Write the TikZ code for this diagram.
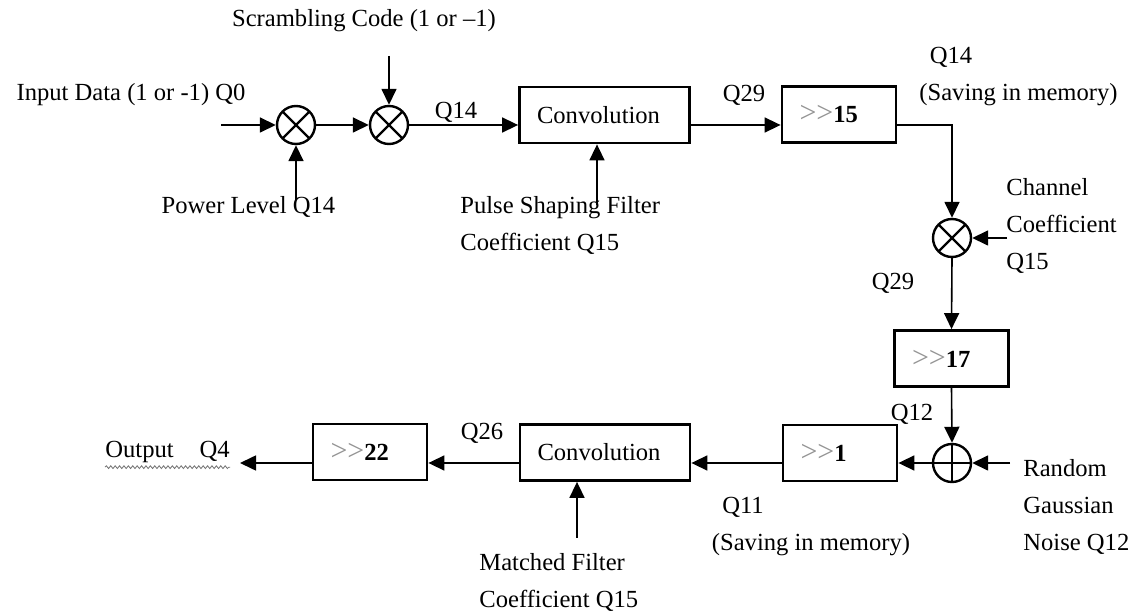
\documentclass[tikz,border=0pt]{standalone}
\usepackage{fontspec}
\setmainfont{Liberation Serif}
\usetikzlibrary{arrows.meta,decorations.pathmorphing}

% ">>" drawn as two separate glyphs so no guillemet ligature forms
\newcommand{\shr}[1]{{\fontsize{15}{14}\selectfont\color{black!42}>\kern0pt>}\textbf{#1}}

\begin{document}
\begin{tikzpicture}[x=0.5pt,y=-0.5pt,
  txt/.style={font=\fontsize{12.3}{18.5}\selectfont, inner sep=0pt},
  ltxt/.style={txt, align=left, anchor=west},
  blk/.style={draw, line width=1.4pt, minimum height=28pt, inner ysep=0pt,
    inner xsep=8.75pt, align=left, font=\fontsize{12.3}{14}\selectfont},
  convbox/.style={blk, text width=67.5pt},
  shiftbox/.style={blk, text width=39.5pt},
  junction/.style={circle, draw, line width=1.2pt, minimum size=19pt, inner sep=0pt},
  mult/.style={junction, path picture={
      \draw[line width=1.2pt]
        (path picture bounding box.north east) -- (path picture bounding box.south west)
        (path picture bounding box.north west) -- (path picture bounding box.south east);}},
  adder/.style={junction, path picture={
      \draw[line width=1.2pt]
        (path picture bounding box.north) -- (path picture bounding box.south)
        (path picture bounding box.west) -- (path picture bounding box.east);}},
  flow/.style={line width=0.8pt, -{Triangle[length=8pt,width=7.5pt]}}
]
\useasboundingbox[fill=white] (0,0) rectangle (1136,614);

% ---- signal chain ----
\node[mult] (M1) at (296,125) {};
\node[mult] (M2) at (389,125) {};
\node[convbox] (C1) at (604.5,115) {Convolution};
\node[shiftbox] (S15) at (839,114.5) {\shr{15}};
\node[mult] (M3) at (952,238) {};
\node[shiftbox] (S17) at (951.5,358.5) {\shr{17}};
\node[adder] (A) at (952,463) {};
\node[shiftbox] (S1) at (840,453) {\shr{1}};
\node[convbox] (C2) at (605,452.5) {Convolution};
\node[shiftbox] (S22) at (370,452) {\shr{22}};

% ---- free ends of the side inputs and the output ----
\coordinate (inS) at (221,125);
\coordinate (scrS) at (389,56);
\coordinate (powS) at (296,200);
\coordinate (pulS) at (597,205);
\coordinate (coefS) at (1007,238);
\coordinate (noiS) at (1010,463);
\coordinate (matS) at (577,538);
\coordinate (outE) at (240,463);

% ---- labels ----
\node[txt] (inp) at (131,95) {Input Data (1 or -1) Q0};
\node[txt] (scr) at (364,21) {Scrambling Code (1 or --1)};
\node[txt] (pow) at (248.5,207) {Power Level Q14};
\node[ltxt] (pul) at (460,225.5) {Pulse Shaping Filter\\Coefficient Q15};
\node[txt] (q14a) at (456,112) {Q14};
\node[txt] (q29a) at (744,95) {Q29};
\node[txt] (q14b) at (951,57) {Q14};
\node[txt] (sav1) at (1018.5,95) {(Saving in memory)};
\node[ltxt] (chan) at (1006,226) {Channel\\Coefficient\\Q15};
\node[txt] (q29b) at (893,283) {Q29};
\node[txt] (q12) at (912,414) {Q12};
\node[ltxt] (noise) at (1023,507) {Random\\Gaussian\\Noise Q12};
\node[txt] (q11) at (743,507) {Q11};
\node[txt] (sav2) at (811,545) {(Saving in memory)};
\node[ltxt] (mat) at (479,582.5) {Matched Filter\\Coefficient Q15};
\node[txt] (q26) at (482,433) {Q26};
\node[ltxt] (out) at (105,452) {Output\hspace{13pt}Q4};
\draw[black!55, line width=0.4pt, decorate,
  decoration={snake, amplitude=0.7pt, segment length=2.2pt}]
  ([yshift=-2pt]out.south west) -- ([yshift=-2pt]out.south east);

% ---- connectors ----
\draw[flow] (inS) -- (M1.west);
\draw[flow] (M1.east) -- (M2.west);
\draw[flow] (scrS) -- (M2.north);
\draw[flow] (powS) -- (M1.south);
\draw[flow] (M2.east) -- (M2.east -| C1.west);
\draw[flow] (pulS) -- (pulS |- C1.south);
\draw[flow] (C1.east |- M2) -- (S15.west |- M2);
\draw[flow] (S15.east |- M2) -| (M3.north);
\draw[flow] (coefS) -- (M3.east);
\draw[flow] (M3.south) -- (S17.north);
\draw[flow] (S17.south) -- (A.north);
\draw[flow] (noiS) -- (A.east);
\draw[flow] (A.west) -- (A.west -| S1.east);
\draw[flow] (S1.west |- A) -- (C2.east |- A);
\draw[flow] (matS) -- (matS |- C2.south);
\draw[flow] (C2.west |- A) -- (S22.east |- A);
\draw[flow] (S22.west |- A) -- (outE);
\end{tikzpicture}
\end{document}
